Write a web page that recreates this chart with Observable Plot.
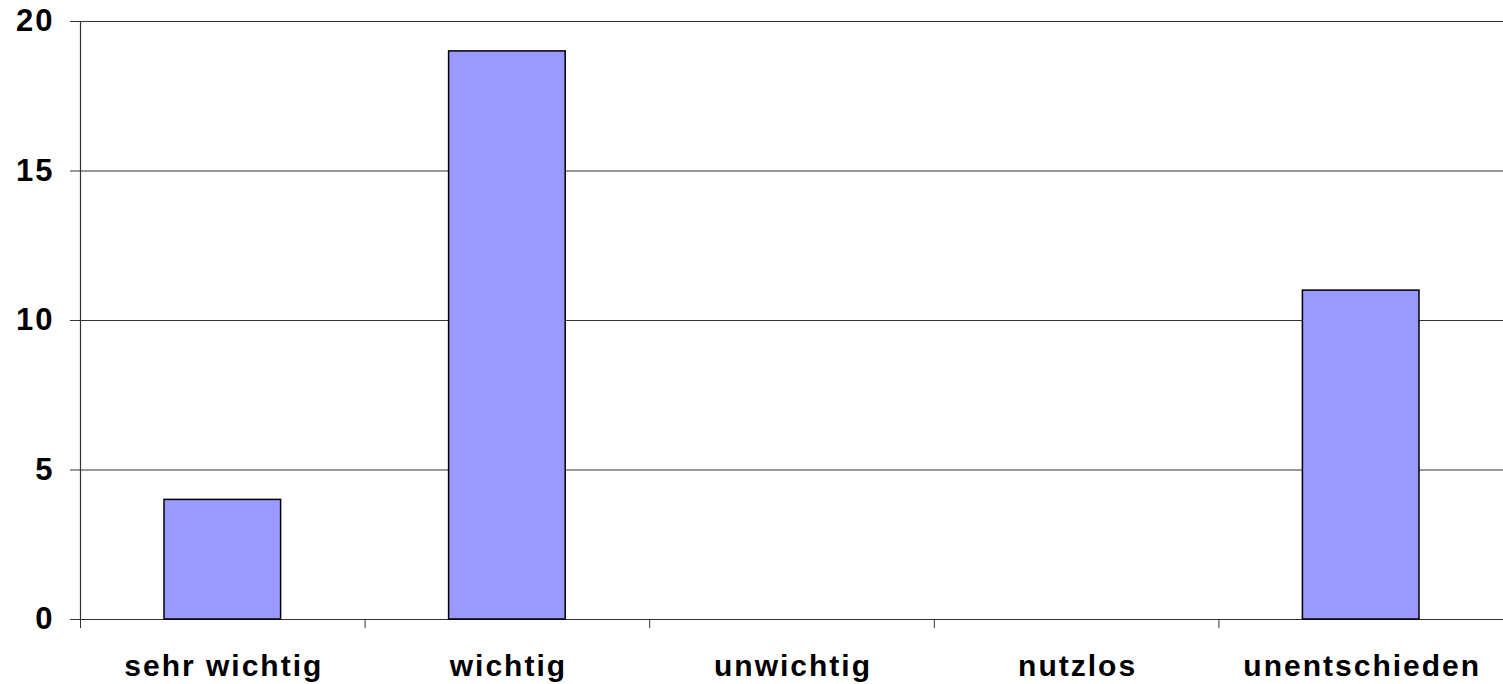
<!DOCTYPE html>
<html><head><meta charset="utf-8">
<script src="https://cdn.jsdelivr.net/npm/d3@7"></script>
<script src="https://cdn.jsdelivr.net/npm/@observablehq/plot@0.6"></script>
<style>body{margin:0;background:#fff}</style>
</head><body><div id="chart"></div>
<script>
const categories = ["sehr wichtig", "wichtig", "unwichtig", "nutzlos", "unentschieden"];
const values = [4, 19, 0, 0, 11];
const yTicks = [0, 5, 10, 15, 20];

const data = categories.map((c, i) => ({c, i, v: values[i]}));
const font = "'Liberation Sans', Arial, sans-serif";

const chart = Plot.plot({
  width: 1503, height: 684,
  marginLeft: 80, marginRight: 0, marginTop: 21, marginBottom: 65,
  style: {fontFamily: font, fontSize: "30px", fontWeight: "bold", color: "#000", background: "#fff", letterSpacing: "2px"},
  x: {domain: [0, categories.length], axis: null},
  y: {domain: [0, 20], axis: null},
  marks: [
    Plot.ruleY(yTicks, {stroke: "#333", strokeWidth: 1}),
    Plot.rectY(data.filter(d => d.v > 0), {x1: d => d.i, x2: d => d.i + 1, y: "v", insetLeft: 84, insetRight: 84, fill: "#9999ff", stroke: "#000", strokeWidth: 1.5}),
    Plot.ruleX([0], {stroke: "#333", strokeWidth: 1.2}),
    Plot.axisY(yTicks, {tickSize: 10, tickPadding: 16, stroke: "#333", fontSize: 31, fontWeight: "bold", fill: "#000", label: null, tickFormat: d => d}),
    Plot.axisX(d3.range(categories.length + 1), {tickSize: 9, tickFormat: () => "", stroke: "#333", label: null}),
    Plot.text(data, {x: d => d.i + 0.5, y: () => 0, text: "c", dy: 47, dx: 1, fontSize: 30, fontWeight: "bold", fill: "#000"})
  ]
});
document.getElementById("chart").appendChild(chart);
</script>
</body></html>
